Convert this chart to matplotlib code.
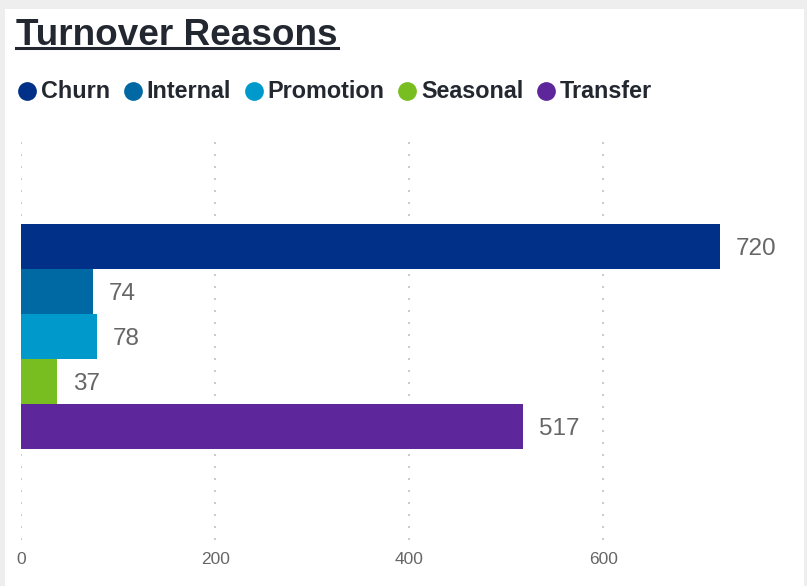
import matplotlib
matplotlib.use("Agg")
import matplotlib.pyplot as plt
from matplotlib.patches import Rectangle
from matplotlib.lines import Line2D

plt.rcParams['font.family'] = ['Liberation Sans', 'DejaVu Sans']
plt.rcParams['lines.scale_dashes'] = False

# Data
reasons = ['Churn', 'Internal', 'Promotion', 'Seasonal', 'Transfer']
counts = [720, 74, 78, 37, 517]
colors = ['#003087', '#0069a3', '#0099cc', '#78be20', '#5e269b']
xticks = [0, 200, 400, 600]

W, H = 807, 586
fig = plt.figure(figsize=(W / 100, H / 100), dpi=100)
fig.patch.set_facecolor('#eeeeee')

# white card
fig.patches.append(Rectangle((5 / W, 0), 799 / W, (H - 9) / H, transform=fig.transFigure,
                             facecolor='white', edgecolor='none', zorder=-5))

# title with underline
title = fig.text(16 / W, 1 - 45 / H, 'Turnover Reasons', fontsize=26.6, fontweight='bold',
                 color='#232830', ha='left', va='baseline')
fig.canvas.draw()
r = fig.canvas.get_renderer()
bb = title.get_window_extent(r)
uy = 1 - 48 / H
fig.lines.append(Line2D([bb.x0 / W, bb.x1 / W], [uy, uy], transform=fig.transFigure,
                        color='#232830', linewidth=2.2))

# legend drawn manually
x = 27
ly = 1 - 91 / H
for name, c in zip(reasons, colors):
    fig.lines.append(Line2D([x / W], [ly], transform=fig.transFigure, marker='o',
                            markersize=13.5, color=c, markeredgewidth=0))
    t = fig.text((x + 14) / W, 1 - 98 / H, name, fontsize=16.8, fontweight='bold',
                 color='#232830', ha='left', va='baseline')
    tb = t.get_window_extent(r)
    x = tb.x1 + 22.5

# bars
ax = fig.add_axes([21 / W, 46 / H, (783 - 21) / W, 400 / H])
ax.set_zorder(2)
ax.set_facecolor('none')
ax.barh(range(len(reasons)), counts, height=1.0, color=colors, zorder=2)
for i, v in enumerate(counts):
    ax.annotate(str(v), (v, i), xytext=(11.5, -1.5), textcoords='offset points',
                va='center', ha='left', fontsize=17.5, color='#666666')

ax.set_xlim(0, 785)
ax.set_ylim(6.522, -2.367)
ax.set_xticks(xticks)
ax.set_yticks([])
for s in ax.spines.values():
    s.set_visible(False)
ax.xaxis.grid(True, color='#c8c8c8', linewidth=1.4, linestyle=(0, (1.4, 7.24)))
ax.set_axisbelow(True)
ax.tick_params(axis='x', length=0, labelsize=12.5, colors='#666666', pad=8.5)
for lab in ax.get_xticklabels():
    lab.set_family(['Liberation Sans Narrow', 'Liberation Sans'])

fig.savefig('out.png', dpi=100, facecolor=fig.get_facecolor())
